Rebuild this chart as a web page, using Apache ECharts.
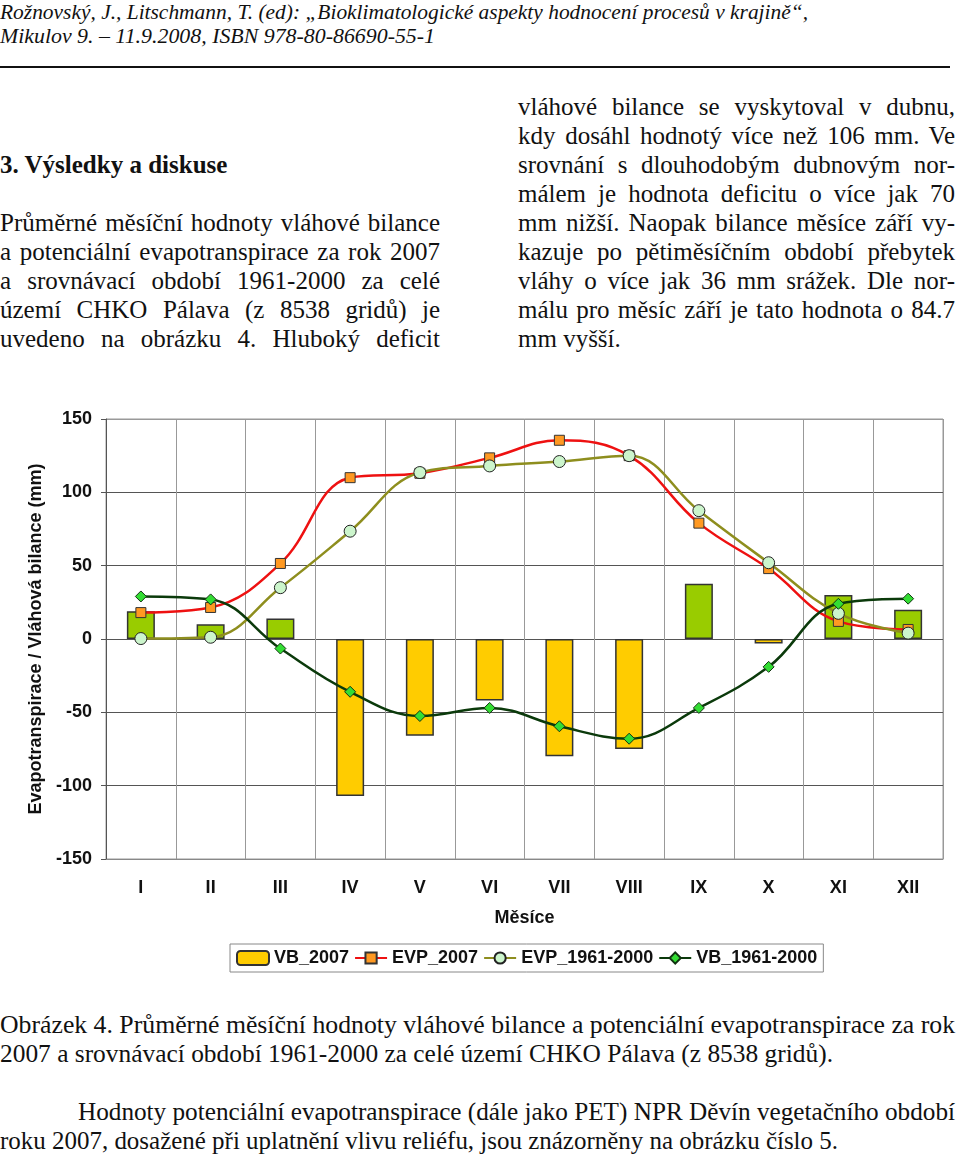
<!DOCTYPE html>
<html>
<head>
<meta charset="utf-8">
<script src="https://cdn.jsdelivr.net/npm/echarts@6/dist/echarts.min.js"></script>
<style>
html,body{margin:0;padding:0;background:#fff;}
body{width:960px;height:1154px;position:relative;overflow:hidden;color:#111;}
.ln{position:absolute;white-space:nowrap;font-family:"Liberation Serif","Times New Roman",serif;}
.fit{display:inline-block;transform-origin:0 50%;white-space:nowrap;}
.jus{text-align:justify;text-align-last:justify;}
.body{font-size:25px;line-height:29px;height:29px;}
.hdr{font-size:22px;font-style:italic;line-height:24px;}
.cap{font-size:26px;line-height:29px;}
#chart{position:absolute;left:0;top:390px;width:960px;height:600px;}
</style>
</head>
<body>
<div class="ln hdr" style="left:0;top:0;"><span class="fit" data-w="808">Rožnovský, J., Litschmann, T. (ed): „Bioklimatologické aspekty hodnocení procesů v krajině“,</span></div>
<div class="ln hdr" style="left:0;top:24px;"><span class="fit" data-w="435">Mikulov 9. –  11.9.2008, ISBN 978-80-86690-55-1</span></div>
<div style="position:absolute;left:0;top:66px;width:950px;height:2px;background:#111;"></div>

<div class="ln body" style="left:0;top:150px;font-weight:bold;">3. Výsledky a diskuse</div>
<div class="ln body jus" style="left:0;top:208px;width:440px;">Průměrné měsíční hodnoty vláhové bilance</div>
<div class="ln body jus" style="left:0;top:237px;width:440px;">a potenciální evapotranspirace za rok 2007</div>
<div class="ln body jus" style="left:0;top:266px;width:440px;">a srovnávací období 1961-2000 za celé</div>
<div class="ln body jus" style="left:0;top:295px;width:440px;">území CHKO Pálava (z 8538 gridů) je</div>
<div class="ln body jus" style="left:0;top:324px;width:440px;">uvedeno na obrázku 4. Hluboký deficit</div>

<div class="ln body jus" style="left:518px;top:92px;width:437px;">vláhové bilance se vyskytoval v dubnu,</div>
<div class="ln body jus" style="left:518px;top:121px;width:437px;">kdy dosáhl hodnotý více než 106 mm. Ve</div>
<div class="ln body jus" style="left:518px;top:150px;width:437px;">srovnání s dlouhodobým dubnovým nor-</div>
<div class="ln body jus" style="left:518px;top:179px;width:437px;">málem je hodnota deficitu o více jak 70</div>
<div class="ln body jus" style="left:518px;top:208px;width:437px;">mm nižší. Naopak bilance měsíce září vy-</div>
<div class="ln body jus" style="left:518px;top:237px;width:437px;">kazuje po pětiměsíčním období přebytek</div>
<div class="ln body jus" style="left:518px;top:266px;width:437px;">vláhy o více jak 36 mm srážek. Dle nor-</div>
<div class="ln body jus" style="left:518px;top:295px;width:437px;">málu pro měsíc září je tato hodnota o 84.7</div>
<div class="ln body" style="left:518px;top:324px;">mm vyšší.</div>

<div id="chart"></div>

<div class="ln cap" style="left:0;top:1010px;"><span class="fit" data-w="955">Obrázek 4. Průměrné měsíční hodnoty vláhové bilance a potenciální evapotranspirace za rok</span></div>
<div class="ln cap" style="left:0;top:1039px;"><span class="fit" data-w="833">2007 a srovnávací období 1961-2000 za celé území CHKO Pálava (z 8538 gridů).</span></div>
<div class="ln cap" style="left:78px;top:1097px;"><span class="fit" data-w="877">Hodnoty potenciální evapotranspirace (dále jako PET) NPR Děvín vegetačního období</span></div>
<div class="ln cap" style="left:0;top:1126px;"><span class="fit" data-w="838">roku 2007, dosažené při uplatnění vlivu reliéfu, jsou znázorněny na obrázku číslo 5.</span></div>

<script>
// ---- data ----
var months = ['I','II','III','IV','V','VI','VII','VIII','IX','X','XI','XII'];
var vb2007 = [19, 10, 14, -107, -66, -42, -80, -75, 37.7, -3, 30, 20];
var evp2007 = [18, 21.5, 51.5, 110, 113, 123.5, 135.5, 125, 79, 48, 12, 6.5];
var evp19612000 = [0.3, 1.2, 35, 73.5, 113.5, 118, 121, 125, 87.5, 52, 17.5, 4];
var vb19612000 = [29, 27, -6.5, -36, -52.5, -47, -59.5, -68, -47, -19, 24, 27.5];
var yTicks = [-150, 150, 50];

document.querySelectorAll('.fit').forEach(function(el){
  var w = +el.getAttribute('data-w');
  var a = el.getBoundingClientRect().width;
  if (a > 0) el.style.transform = 'scaleX(' + (w / a) + ')';
});

var FONT = '"Liberation Sans", Arial, sans-serif';
var chart = echarts.init(document.getElementById('chart'), null, {renderer:'canvas'});
chart.setOption({
  animation:false,
  grid:{left:106, right:17, top:29, height:440, show:true, borderColor:'#999', borderWidth:1},
  legend:{
    left:230, top:554, orient:'horizontal',
    borderColor:'#888', borderWidth:1, padding:[5,6],
    itemWidth:32, itemHeight:14, itemGap:5,
    textStyle:{fontFamily:FONT, fontWeight:'bold', fontSize:18, color:'#111'},
    data:['VB_2007','EVP_2007','EVP_1961-2000','VB_1961-2000']
  },
  xAxis:{
    type:'category', data:months, boundaryGap:true,
    axisLine:{onZero:false, lineStyle:{color:'#888'}},
    axisTick:{show:false},
    axisLabel:{margin:20, fontFamily:FONT, fontWeight:'bold', fontSize:18, color:'#111'},
    splitLine:{show:true, lineStyle:{color:'#999', width:1}},
    name:'Měsíce', nameLocation:'middle', nameGap:50,
    nameTextStyle:{fontFamily:FONT, fontWeight:'bold', fontSize:18, color:'#111'}
  },
  yAxis:{
    type:'value', min:yTicks[0], max:yTicks[1], interval:yTicks[2],
    axisLine:{show:true, lineStyle:{color:'#555'}},
    axisTick:{show:true, length:5, lineStyle:{color:'#555'}},
    axisLabel:{margin:14, fontFamily:FONT, fontWeight:'bold', fontSize:18, color:'#111'},
    splitLine:{show:true, lineStyle:{color:['#999','#555','#555','#555','#555','#555','#999'], width:1}},
    name:'Evapotranspirace / Vláhová bilance (mm)', nameLocation:'middle', nameRotate:90, nameGap:59,
    nameTextStyle:{fontFamily:FONT, fontWeight:'bold', fontSize:18, color:'#111'}
  },
  series:[
    {
      name:'VB_2007', type:'bar', barWidth:28,
      itemStyle:{color:'#FFCC00', borderColor:'#333', borderWidth:1.5},
      data: vb2007.map(function(v){ return {value:v, itemStyle:{color: v < 0 ? '#FFCC00' : '#99CC00'}}; })
    },
    {
      name:'EVP_2007', type:'line', smooth:0.4, data:evp2007,
      symbol:'rect', symbolSize:10,
      lineStyle:{color:'#EE1111', width:2.5},
      itemStyle:{color:'#FF9922', borderColor:'#333', borderWidth:1}
    },
    {
      name:'EVP_1961-2000', type:'line', smooth:0.4, data:evp19612000,
      symbol:'circle', symbolSize:12,
      lineStyle:{color:'#8E8E1E', width:2.5},
      itemStyle:{color:'#CCF5CC', borderColor:'#222', borderWidth:1}
    },
    {
      name:'VB_1961-2000', type:'line', smooth:0.4, data:vb19612000,
      symbol:'diamond', symbolSize:11,
      lineStyle:{color:'#0B3A0B', width:2.5},
      itemStyle:{color:'#33DD33', borderColor:'#113311', borderWidth:1}
    }
  ]
});
</script>
</body>
</html>
